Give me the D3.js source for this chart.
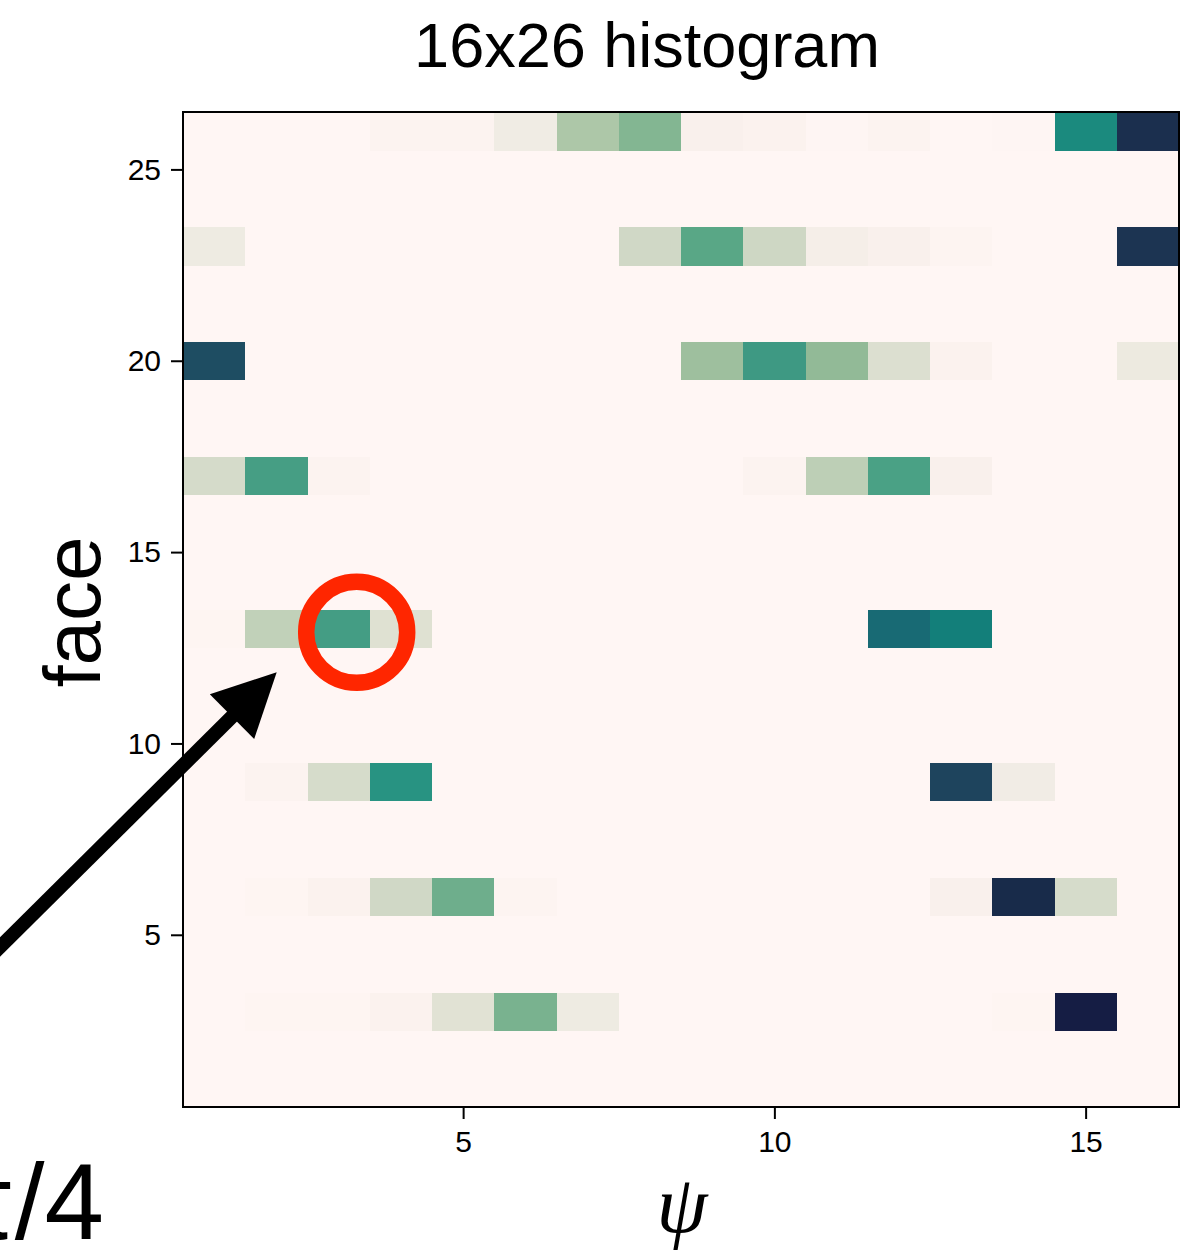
<!DOCTYPE html>
<html>
<head>
<meta charset="utf-8">
<script src="https://cdn.jsdelivr.net/npm/d3@7"></script>
<style>
  html, body { margin: 0; padding: 0; background: #ffffff; }
  svg { display: block; }
  text { font-family: "Liberation Sans", Arial, Helvetica, sans-serif; fill: #000; }
</style>
</head>
<body>
<svg id="chart" width="1204" height="1254"></svg>
<script>
// ---------------- data ----------------
const psiBins  = [1,2,3,4,5,6,7,8,9,10,11,12,13,14,15,16];
const faceBins = [1,2,3,4,5,6,7,8,9,10,11,12,13,14,15,16,17,18,19,20,21,22,23,24,25,26];
const xTicks = [5, 10, 15];
const yTicks = [5, 10, 15, 20, 25];
const titleText = "16x26 histogram";
const xLabel = "ψ";
const yLabel = "face";
const cornerText = "π/4";

// counts per psi bin for the non-empty face rows (all other rows are zero)
const face3  = [0, 0.5, 0.5, 1.5, 8.5, 34, 4.5, 0, 0, 0, 0, 0, 0, 0.5, 100, 0];
const face6  = [0, 0.5, 1.5, 14, 36, 0.7, 0, 0, 0, 0, 0, 0, 2, 95, 12, 0];
const face9  = [0, 1, 12, 51, 0, 0, 0, 0, 0, 0, 0, 0, 83, 3.8, 0, 0];
const face13 = [0.5, 18, 45.5, 9, 0, 0, 0, 0, 0, 0, 0, 66, 59, 0, 0, 0];
const face17 = [12.5, 45, 1, 0, 0, 0, 0, 0, 0, 1, 19, 44, 2, 0, 0, 0];
const face20 = [78, 0, 0, 0, 0, 0, 0, 0, 27, 47, 29, 10, 1.5, 0, 0, 5];
const face23 = [4.5, 0, 0, 0, 0, 0, 0, 14, 41, 14.5, 3, 2, 0.7, 0, 0, 90];
const face26 = [0, 0, 0, 1, 1, 4, 22, 32, 2, 1.5, 0.3, 1, 0, 0.3, 55, 92];
const rowCounts = {3: face3, 6: face6, 9: face9, 13: face13, 17: face17, 20: face20, 23: face23, 26: face26};
const countMax = 100;

// ---------------- style: cmocean "tempo"-like colormap ----------------
const tempoStops = [
  [0.00, "#fff6f4"], [0.02, "#f9f0ec"], [0.04, "#f0ece4"], [0.09, "#dfe1d2"],
  [0.14, "#d0d8c6"], [0.19, "#bdcfb6"], [0.22, "#adc7a8"], [0.27, "#9ebf9e"],
  [0.29, "#92ba97"], [0.32, "#83b692"], [0.36, "#6eae8c"], [0.41, "#59a786"],
  [0.44, "#4aa185"], [0.47, "#3e9983"], [0.52, "#239182"], [0.55, "#1b8a7e"],
  [0.59, "#137f7a"], [0.66, "#186a74"], [0.78, "#1e4d62"], [0.85, "#1e405b"],
  [0.92, "#1b2f4e"], [0.95, "#182b4a"], [1.00, "#151d44"]
];

// ---------------- layout ----------------
const plot = {left: 183, right: 1179, top: 112, bottom: 1107};

const svg = d3.select("#chart");

const x = d3.scaleLinear().domain([0.5, 16.5]).range([plot.left, plot.right]);
const y = d3.scaleLinear().domain([0.5, 26.5]).range([plot.bottom, plot.top]);
const color = d3.scaleLinear()
  .domain(tempoStops.map(s => s[0] * countMax))
  .range(tempoStops.map(s => s[1]))
  .interpolate(d3.interpolateRgb)
  .clamp(true);

// cells
const cells = [];
faceBins.forEach(f => {
  const row = rowCounts[f];
  psiBins.forEach((p, i) => {
    cells.push({psi: p, face: f, count: row ? row[i] : 0});
  });
});

svg.append("g")
  .selectAll("rect")
  .data(cells)
  .join("rect")
  .attr("x", d => x(d.psi - 0.5))
  .attr("y", d => y(d.face + 0.5))
  .attr("width", d => x(d.psi + 0.5) - x(d.psi - 0.5) + 0.5)
  .attr("height", d => y(d.face - 0.5) - y(d.face + 0.5) + 0.5)
  .attr("fill", d => color(d.count))
  .attr("shape-rendering", "crispEdges");

// frame
svg.append("rect")
  .attr("x", plot.left).attr("y", plot.top)
  .attr("width", plot.right - plot.left).attr("height", plot.bottom - plot.top)
  .attr("fill", "none").attr("stroke", "#000").attr("stroke-width", 2);

// axes
const xAxis = svg.append("g")
  .attr("transform", `translate(0,${plot.bottom})`)
  .call(d3.axisBottom(x).tickValues(xTicks).tickSize(12).tickPadding(12));
const yAxis = svg.append("g")
  .attr("transform", `translate(${plot.left},0)`)
  .call(d3.axisLeft(y).tickValues(yTicks).tickSize(12).tickPadding(10));
[xAxis, yAxis].forEach(g => {
  g.select(".domain").remove();
  g.selectAll(".tick line").attr("stroke", "#000").attr("stroke-width", 2);
  g.selectAll(".tick text")
    .attr("font-family", "'Liberation Sans', Arial, Helvetica, sans-serif")
    .attr("font-size", 30).attr("fill", "#000");
});

// title
svg.append("text")
  .attr("x", 647).attr("y", 67)
  .attr("text-anchor", "middle")
  .attr("font-size", 63)
  .text(titleText);

// y label
svg.append("text")
  .attr("transform", "translate(100,612) rotate(-90)")
  .attr("text-anchor", "middle")
  .attr("font-size", 80)
  .text(yLabel);

// x label
svg.append("text")
  .attr("x", 682).attr("y", 1232)
  .attr("text-anchor", "middle")
  .attr("font-size", 82)
  .attr("font-style", "italic")
  .style("font-family", "'Liberation Serif', 'DejaVu Serif', serif")
  .text(xLabel);

// corner text (cut off at the left edge)
svg.append("text")
  .attr("x", 104).attr("y", 1239)
  .attr("text-anchor", "end")
  .attr("font-size", 107)
  .text(cornerText);

// annotation arrow
const arrowTip = [276.7, 672.3];
const arrowTail = [-40, 986.7];
const headLen = 63, headHalf = 31.5, shaftW = 14;
const ang = Math.atan2(arrowTip[1] - arrowTail[1], arrowTip[0] - arrowTail[0]);
const ux = Math.cos(ang), uy = Math.sin(ang);
const base = [arrowTip[0] - ux * headLen, arrowTip[1] - uy * headLen];
svg.append("line")
  .attr("x1", arrowTail[0]).attr("y1", arrowTail[1])
  .attr("x2", base[0] + ux * 2).attr("y2", base[1] + uy * 2)
  .attr("stroke", "#000").attr("stroke-width", shaftW);
svg.append("path")
  .attr("d", d3.line()([
    arrowTip,
    [base[0] - uy * headHalf, base[1] + ux * headHalf],
    [base[0] + uy * headHalf, base[1] - ux * headHalf]
  ]) + "Z")
  .attr("fill", "#000");

// red circle
svg.append("circle")
  .attr("cx", 356.7).attr("cy", 632.3).attr("r", 50.5)
  .attr("fill", "none")
  .attr("stroke", "#ff2600")
  .attr("stroke-width", 16.5);
</script>
</body>
</html>
